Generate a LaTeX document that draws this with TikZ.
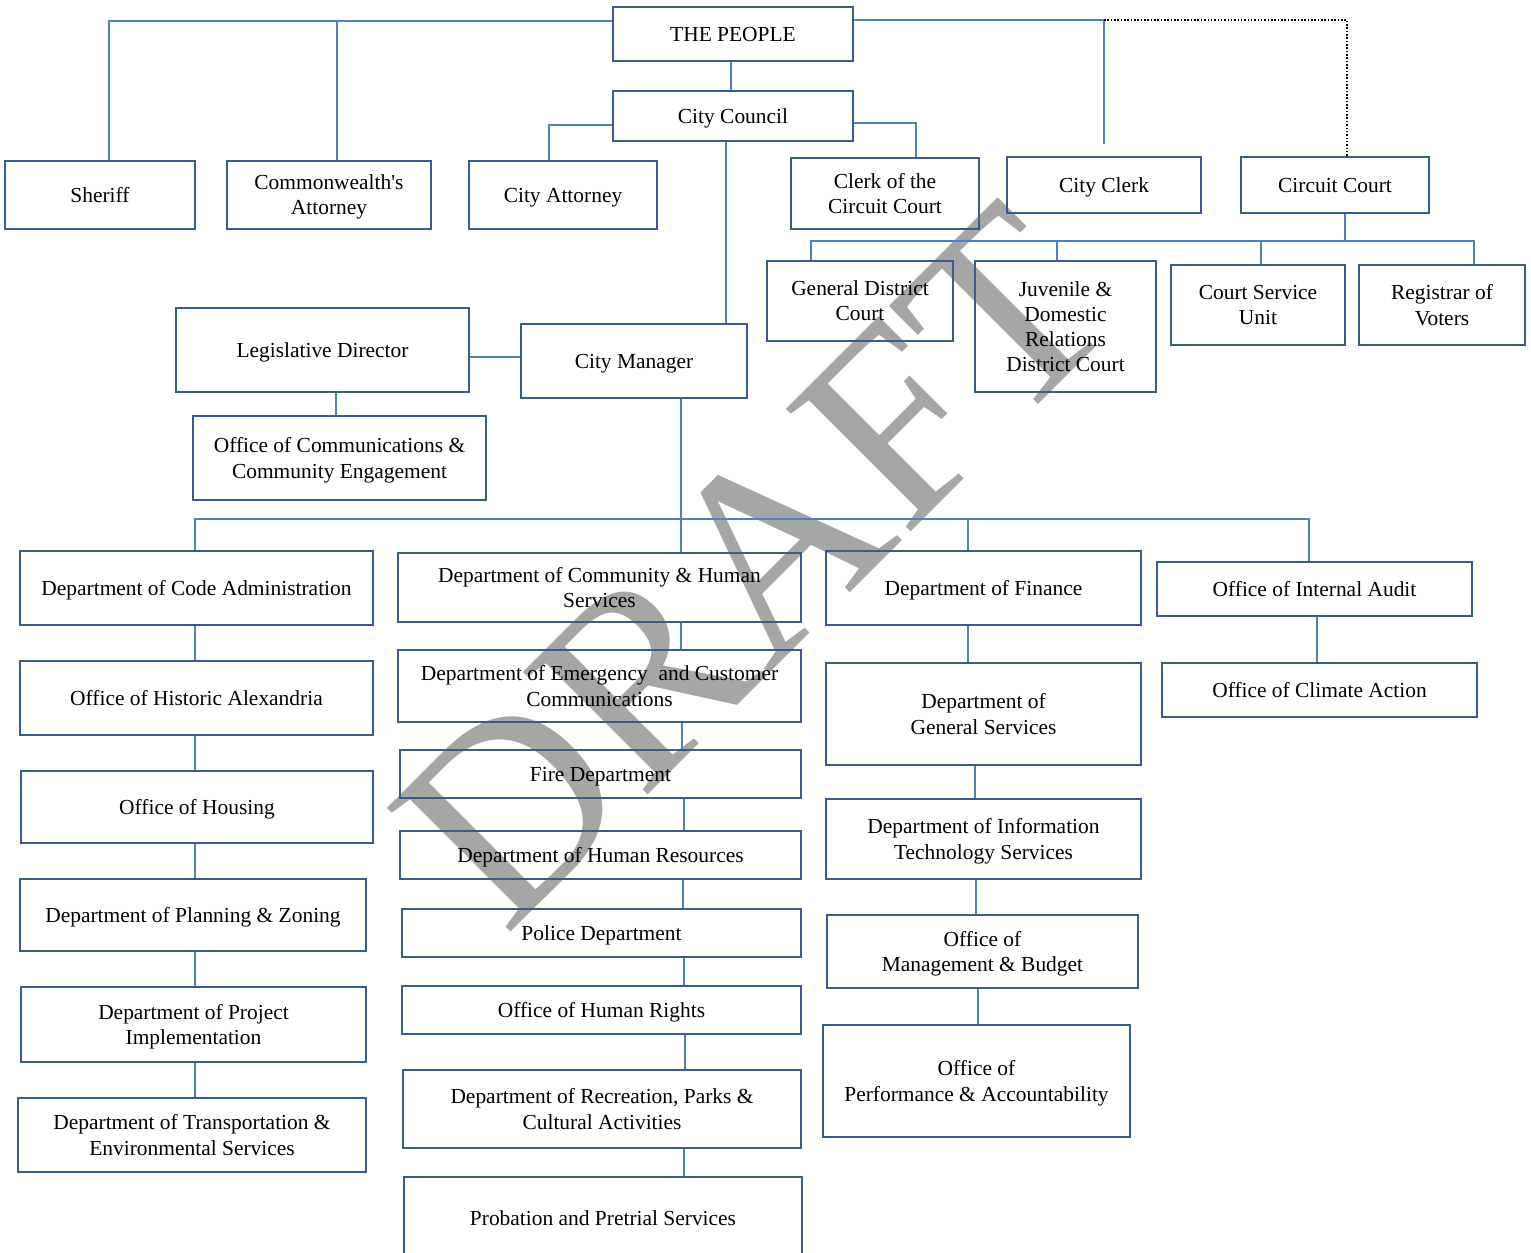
\documentclass[tikz,border=0pt]{standalone}
\usepackage{fontspec}
\setmainfont{Liberation Serif}
\definecolor{boxblue}{RGB}{56,93,138}
\definecolor{lineblue}{RGB}{79,129,189}
\definecolor{wmgray}{RGB}{166,166,166}
\begin{document}
\begin{tikzpicture}[x=0.02cm, y=-0.02cm,
  box/.style={draw=boxblue, line width=1pt, inner sep=0pt, align=center,
              text depth=0pt, font=\fontsize{12.2}{14.3}\selectfont},
  sz/.style 2 args={minimum width=#1*0.02cm, minimum height=#2*0.02cm},
  link/.style={draw=lineblue, line width=0.9pt},
  dots/.style={draw=black, line width=0.9pt, densely dotted},
  wm/.style={text=wmgray, font=\fontsize{152}{152}\selectfont}]
  \useasboundingbox (0,0) rectangle (1531,1253);
  % watermark
  \node[wm, rotate=45, anchor=base] (draft) at (815,628) {DRAFT};
  % elected offices
  \node[box, sz={240}{54}] (people) at (733,34) {THE PEOPLE};
  \node[box, sz={240}{50}] (council) at (733,116) {City Council};
  \node[box, sz={190}{68}] (sheriff) at (100,195) {Sheriff};
  \node[box, sz={204}{68}] (comm) at (329,195) {Commonwealth\textquotesingle s\\Attorney};
  \node[box, sz={188}{68}] (cattny) at (563,195) {City Attorney};
  \node[box, sz={188}{71}] (clerkcc) at (885,193.5) {Clerk of the\\Circuit Court};
  \node[box, sz={194}{56}] (cclerk) at (1104,185) {City Clerk};
  \node[box, sz={188}{56}] (ccourt) at (1335,185) {Circuit Court};
  \draw[link] (people.west |- 0,21) -| (sheriff.north -| 109,0);
  \draw[link] (comm.north -| 337,0) |- (people.west |- 0,21);
  \draw[link] (people.east |- 0,20) -| ([yshift=0.24cm]cclerk.north);
  \draw[dots] (cclerk.north |- 0,20) -| (ccourt.north -| 1347,0);
  \draw[link] (people.south -| 731,0) -- (council.north -| 731,0);
  \draw[link] (council.west |- 0,125) -| (cattny.north -| 549,0);
  \draw[link] (council.east |- 0,123) -| (clerkcc.north -| 916,0);
  % courts
  \node[box, sz={186}{80}] (gdc) at (860,301) {General District\\Court};
  \node[box, sz={181}{131}] (jdr) at (1065.5,326.5) {Juvenile \&\\Domestic\\Relations\\District Court};
  \node[box, sz={174}{80}] (csu) at (1258,305) {Court Service\\Unit};
  \node[box, sz={166}{80}] (rov) at (1442,305) {Registrar of\\Voters};
  \coordinate (cbus) at (1345,241);
  \draw[link] (ccourt.south -| cbus) -- (cbus);
  \draw[link] (gdc.north -| 811,0) |- (cbus) -| (rov.north -| 1474,0);
  \foreach \n/\x in {jdr/1057, csu/1261}
    \draw[link] (\n.north -| \x,0) -- (\x,241);
  % city manager
  \node[box, sz={293}{84}] (legis) at (322.5,350) {Legislative Director};
  \node[box, sz={226}{74}] (cmgr) at (634,361) {City Manager};
  \node[box, sz={293}{84}] (comms) at (339.5,458) {Office of Communications \&\\Community Engagement};
  \draw[link] (council.south -| 726,0) -- (cmgr.north -| 726,0);
  \draw[link] (legis.east |- 0,357) -- (cmgr.west |- 0,357);
  \draw[link] (legis.south -| 336,0) -- (comms.north -| 336,0);
  % departments
  \node[box, sz={353}{74}] (code) at (196.5,588) {Department of Code Administration};
  \node[box, sz={353}{74}] (hist) at (196.5,698) {Office of Historic Alexandria};
  \node[box, sz={352}{72}] (housing) at (197,807) {Office of Housing};
  \node[box, sz={346}{72}] (plan) at (193,915) {Department of Planning \& Zoning};
  \node[box, sz={345}{75}] (proj) at (193.5,1024.5) {Department of Project\\Implementation};
  \node[box, sz={348}{74}] (trans) at (192,1135) {Department of Transportation \&\\Environmental Services};
  \node[box, sz={403}{69}] (dchs) at (599.5,587.5) {Department of Community \& Human\\Services};
  \node[box, sz={403}{72}] (dec) at (599.5,686) {Department of Emergency\ \ and Customer\\Communications};
  \node[box, sz={401}{48}] (fire) at (600.5,774) {Fire Department};
  \node[box, sz={401}{48}] (hr) at (600.5,855) {Department of Human Resources};
  \node[box, sz={399}{48}] (police) at (601.5,933) {Police Department};
  \node[box, sz={399}{48}] (rights) at (601.5,1010) {Office of Human Rights};
  \node[box, sz={398}{78}] (rec) at (602,1109) {Department of Recreation, Parks \&\\Cultural Activities};
  \node[box, sz={398}{82}] (prob) at (603,1218) {Probation and Pretrial Services};
  \node[box, sz={315}{74}] (fin) at (983.5,588) {Department of Finance};
  \node[box, sz={315}{102}] (gen) at (983.5,714) {Department of\\General Services};
  \node[box, sz={315}{80}] (its) at (983.5,839) {Department of Information\\Technology Services};
  \node[box, sz={311}{73}] (omb) at (982.5,951.5) {Office of\\Management \& Budget};
  \node[box, sz={307}{112}] (opa) at (976.5,1081) {Office of\\Performance \& Accountability};
  \node[box, sz={315}{54}] (audit) at (1314.5,589) {Office of Internal Audit};
  \node[box, sz={315}{54}] (climate) at (1319.5,690) {Office of Climate Action};
  \coordinate (mbus) at (681,519);
  \draw[link] (cmgr.south -| mbus) -- (dchs.north -| mbus);
  \draw[link] (code.north -| 195,0) |- (mbus) -| (audit.north -| 1309,0);
  \draw[link] (fin.north -| 968,0) -- (968,519);
  \foreach \a/\b/\x in {code/hist/195, hist/housing/195, housing/plan/195, plan/proj/195, proj/trans/195,
      dchs/dec/681, dec/fire/682, fire/hr/684, hr/police/683, police/rights/684, rights/rec/685, rec/prob/684,
      fin/gen/968, gen/its/975, its/omb/976, omb/opa/978, audit/climate/1317}
    \draw[link] (\a.south -| \x,0) -- (\b.north -| \x,0);
\end{tikzpicture}
\end{document}
